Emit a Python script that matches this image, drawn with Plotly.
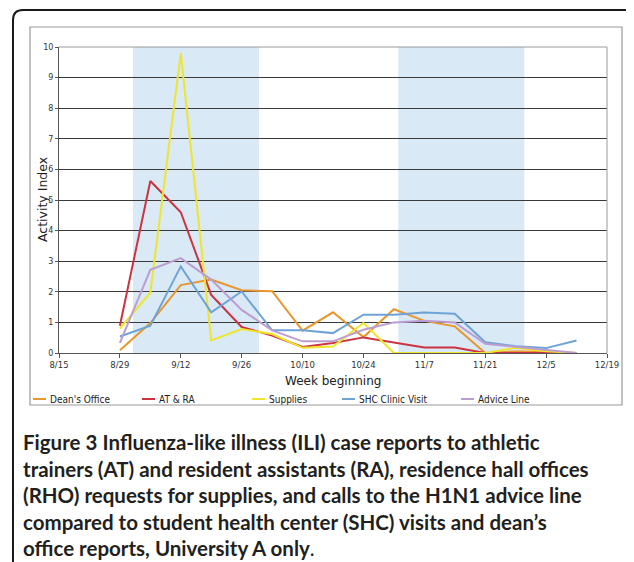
import plotly.graph_objects as go

# ---------------- data ----------------
weeks = ["2009-08-29", "2009-09-05", "2009-09-12", "2009-09-19", "2009-09-26",
         "2009-10-03", "2009-10-10", "2009-10-17", "2009-10-24", "2009-10-31",
         "2009-11-07", "2009-11-14", "2009-11-21", "2009-11-28", "2009-12-05",
         "2009-12-12"]

deans_office = [0.09, 0.98, 2.22, 2.40, 2.05, 2.02, 0.73, 1.33, 0.52, 1.43,
                1.05, 0.87, 0.00, 0.05, 0.05, 0.00]
at_ra = [0.89, 5.62, 4.60, 1.90, 0.85, 0.57, 0.20, 0.33, 0.51, 0.35,
         0.18, 0.18, 0.00, 0.00, 0.00, 0.00]
supplies = [0.80, 1.97, 9.80, 0.41, 0.78, 0.62, 0.17, 0.21, 0.98, 0.00,
            0.00, 0.00, 0.00, 0.17, 0.06, 0.00]
shc_clinic = [0.54, 0.89, 2.83, 1.33, 2.01, 0.74, 0.74, 0.65, 1.25, 1.25,
              1.32, 1.28, 0.35, 0.22, 0.16, 0.41]
advice_line = [0.33, 2.72, 3.10, 2.40, 1.41, 0.74, 0.38, 0.38, 0.76, 1.00,
               1.05, 1.00, 0.30, 0.20, 0.10, 0.00]

series_names = ["Dean's Office", "AT & RA", "Supplies", "SHC Clinic Visit", "Advice Line"]
series_values = [deans_office, at_ra, supplies, shc_clinic, advice_line]
series_colors = ["#E8972E", "#CC3340", "#EFE52C", "#6FA3D6", "#BC9DD2"]

shaded_periods = [("2009-09-01", "2009-09-30"), ("2009-11-01", "2009-11-30")]

x_range = ["2009-08-15", "2009-12-19"]
y_range = [0, 10]

x_title = "Week beginning"
y_title = "Activity Index"

caption_lines = [
    "<b>Figure 3</b> <b>Influenza-like illness (ILI) case reports to athletic</b>",
    "<b>trainers (AT) and resident assistants (RA), residence hall offices</b>",
    "<b>(RHO) requests for supplies, and calls to the H1N1 advice line</b>",
    "<b>compared to student health center (SHC) visits and dean’s</b>",
    "<b>office reports, University A only</b>.",
]

# ---------------- layout geometry ----------------
# The page body has an 8px margin, so the figure is drawn 8px smaller and all
# reference pixel positions are shifted by that offset.
OFF = 8
W, H = 634 - OFF, 562 - OFF
PL, PR, PT, PB = 59 - OFF, 607 - OFF, 47 - OFF, 353 - OFF


def px(x):
    """reference pixel x -> paper coordinate"""
    return (x - OFF - PL) / (PR - PL)


def py(y):
    """reference pixel y -> paper coordinate"""
    return (PB - (y - OFF)) / (PB - PT)


fig = go.Figure()

for name, vals, col in zip(series_names, series_values, series_colors):
    fig.add_trace(go.Scatter(x=weeks, y=vals, mode="lines", name=name,
                             line=dict(color=col, width=2), showlegend=False))

shapes = []
for x0, x1 in shaded_periods:
    shapes.append(dict(type="rect", xref="x", yref="paper", x0=x0, x1=x1, y0=0, y1=1,
                       fillcolor="#D9E9F6", line=dict(width=0), layer="below"))

# plot frame (top / right)
shapes.append(dict(type="line", xref="paper", yref="paper", x0=0, x1=1, y0=1, y1=1,
                   line=dict(color="#9a9a9a", width=1)))
shapes.append(dict(type="line", xref="paper", yref="paper", x0=1, x1=1, y0=0, y1=1,
                   line=dict(color="#9a9a9a", width=1)))

# chart image frame
shapes.append(dict(type="rect", xref="paper", yref="paper",
                   x0=px(30), x1=px(622), y0=py(27), y1=py(405),
                   line=dict(color="#9a9a9a", width=1.2), fillcolor="rgba(0,0,0,0)"))

# outer rounded box (left + top edges)
r = 10
ox, oy = 13, 10
path = (f"M {px(ox)},{py(570)} L {px(ox)},{py(oy + r)} "
        f"Q {px(ox)},{py(oy)} {px(ox + r)},{py(oy)} L {px(640)},{py(oy)}")
shapes.append(dict(type="path", xref="paper", yref="paper", path=path,
                   line=dict(color="#1a1a1a", width=2)))

annotations = []

# axis titles
annotations.append(dict(xref="paper", yref="paper", x=px(333), y=py(381), text=x_title,
                        showarrow=False, xanchor="center", yanchor="middle",
                        font=dict(family="DejaVu Sans, sans-serif", size=12, color="#222")))
annotations.append(dict(xref="paper", yref="paper", x=px(42), y=py(200), text=y_title,
                        showarrow=False, xanchor="center", yanchor="middle", textangle=-90,
                        font=dict(family="DejaVu Sans, sans-serif", size=12.5, color="#222")))

# legend (manual)
legend_x = [33, 142, 252, 342, 461]
legend_y = 399
for name, col, lx in zip(series_names, series_colors, legend_x):
    shapes.append(dict(type="line", xref="paper", yref="paper",
                       x0=px(lx), x1=px(lx + 13), y0=py(legend_y), y1=py(legend_y),
                       line=dict(color=col, width=2)))
    annotations.append(dict(xref="paper", yref="paper", x=px(lx + 15), y=py(legend_y),
                            text=name, showarrow=False, xanchor="left", yanchor="middle",
                            font=dict(family="DejaVu Sans Condensed, Liberation Sans, sans-serif",
                                      size=10, color="#222")))

# caption lines
cap_y = [442, 468.5, 495, 521.5, 548]
for t, cy in zip(caption_lines, cap_y):
    annotations.append(dict(xref="paper", yref="paper", x=px(21), y=py(cy), text=t,
                            showarrow=False, xanchor="left", yanchor="middle",
                            font=dict(family="Lato, Open Sans, sans-serif",
                                      size=20.5, color="#231f20")))

fig.update_layout(
    width=W, height=H,
    margin=dict(l=PL, r=W - PR, t=PT, b=H - PB),
    paper_bgcolor="white", plot_bgcolor="white",
    showlegend=False,
    shapes=shapes, annotations=annotations,
    xaxis=dict(type="date", range=x_range, dtick=14 * 86400000, tick0="2009-08-15",
               tickformat="%-m/%-d", showgrid=False, showline=True, linecolor="#555",
               linewidth=1, ticks="outside", ticklen=4, tickcolor="#555",
               tickfont=dict(family="DejaVu Sans, sans-serif", size=8.5, color="#333"),
               zeroline=False),
    yaxis=dict(range=y_range, dtick=1, showgrid=True, gridcolor="#3a3a3a", gridwidth=1,
               showline=True, linecolor="#555", linewidth=1, ticks="outside", ticklen=3,
               tickcolor="#555", zeroline=False,
               tickfont=dict(family="DejaVu Sans, sans-serif", size=8, color="#333")),
)

fig.write_html("out.html")
